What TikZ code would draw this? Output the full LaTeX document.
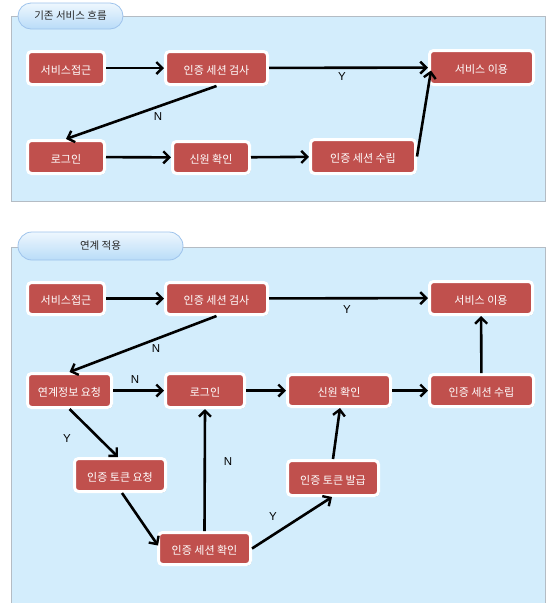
\documentclass[tikz,border=0pt]{standalone}
\usepackage{fontspec}
\newfontfamily\kr{Noto Sans CJK KR}
\newfontfamily\lab{Liberation Sans}
\usetikzlibrary{arrows.meta,shadows,calc}
\definecolor{boxred}{HTML}{C0504D}
\definecolor{panelfill}{HTML}{D3EDFC}
\definecolor{panelline}{HTML}{B4BCC4}
\definecolor{tabline}{HTML}{9EC3EC}
\definecolor{tabtop}{HTML}{EEF7FE}
\definecolor{tabbot}{HTML}{B9DCF8}
\tikzset{
  procbox/.style={draw=white, line width=3pt, fill=boxred, rounded corners=4pt,
    text=white, font=\kr\fontsize{11}{13}\selectfont, inner sep=0pt,
    text height=13pt, text depth=0.5pt,
    drop shadow={shadow xshift=1pt, shadow yshift=-1.2pt, opacity=0.25, fill=black}},
  flow/.style={line width=2.6pt, -{Straight Barb[length=6pt,width=12pt,line width=2.4pt]}},
  edgelab/.style={font=\lab\fontsize{11.5}{13}\selectfont, text=black},
  panel/.style={draw=panelline, fill=panelfill, line width=0.8pt},
  tab/.style={draw=tabline, line width=0.8pt, top color=tabtop, bottom color=tabbot,
    font=\kr\fontsize{10.5}{13}\selectfont, text=black!85, inner sep=0pt},
}
\begin{document}
\begin{tikzpicture}[x=1pt,y=-1pt]
\useasboundingbox (0,0) rectangle (546,603);
\fill[white] (0,0) rectangle (546,603);

% panels
\draw[panel] (11.5,16) rectangle (545,201);
\draw[panel] (11.5,247) rectangle (545,615);

% tabs
\node[tab, rounded corners=13pt, minimum width=105pt, minimum height=26pt] (t1) at (70.5,16) {기존 서비스 흐름};
\node[tab, rounded corners=14pt, minimum width=165pt, minimum height=28pt] (t2) at (100.5,246) {연계 적용};

% panel 1 nodes
\node[procbox, minimum width=77pt, minimum height=33pt] (a1) at (66,68) {서비스접근};
\node[procbox, minimum width=102pt, minimum height=33pt] (a2) at (216.5,68) {인증 세션 검사};
\node[procbox, minimum width=104pt, minimum height=34pt] (a3) at (481.5,67.5) {서비스 이용};
\node[procbox, minimum width=77pt, minimum height=33pt] (a4) at (66,157) {로그인};
\node[procbox, minimum width=77pt, minimum height=32pt] (a5) at (211,157.5) {신원 확인};
\node[procbox, minimum width=105pt, minimum height=34pt] (a6) at (363,156.5) {인증 세션 수립};

% panel 1 arrows
\draw[flow] (a1) -- (a2);
\draw[flow] (a2) -- (a3);
\node[edgelab] (ly1) at (342,77) {Y};
\draw[flow] (a2.south) -- (a4.north);
\node[edgelab] (ln1) at (158,117) {N};
\draw[flow] (a4) -- (a5);
\draw[flow] (a5) -- (a6);
\draw[flow] (a6.east) -- ($(a3.west)+(3,3)$);

% panel 2 nodes
\node[procbox, minimum width=77pt, minimum height=32pt] (b1) at (66,298.5) {서비스접근};
\node[procbox, minimum width=102pt, minimum height=32pt] (b2) at (216.5,298.5) {인증 세션 검사};
\node[procbox, minimum width=103pt, minimum height=33pt] (b3) at (481,298) {서비스 이용};
\node[procbox, minimum width=84pt, minimum height=34pt] (b4) at (69.5,390.5) {연계정보 요청};
\node[procbox, minimum width=79pt, minimum height=34pt] (b5) at (205,390.5) {로그인};
\node[procbox, minimum width=103pt, minimum height=32pt] (b6) at (339,390.5) {신원 확인};
\node[procbox, minimum width=104pt, minimum height=32pt] (b7) at (481.5,390.5) {인증 세션 수립};
\node[procbox, minimum width=91pt, minimum height=33pt] (b8) at (120,475) {인증 토큰 요청};
\node[procbox, minimum width=92pt, minimum height=32pt] (b9) at (204.5,548.5) {인증 세션 확인};
\node[procbox, minimum width=91pt, minimum height=35pt] (b10) at (333,478) {인증 토큰 발급};

% panel 2 arrows
\draw[flow] (b1) -- (b2);
\draw[flow] (b2) -- (b3);
\node[edgelab] (ly2) at (347,310) {Y};
\draw[flow] (b2.south) -- (b4.north);
\node[edgelab] (ln2) at (156,349) {N};
\draw[flow] (b4) -- (b5);
\node[edgelab] (ln3) at (135,380) {N};
\draw[flow] (b5) -- (b6);
\draw[flow] (b6) -- (b7);
\draw[flow] (b7) -- (b3);
\draw[flow] (b4.south) -- ($(b8.north)+(-2,0)$);
\node[edgelab] (ly3) at (67,439) {Y};
\draw[flow] ($(b8.south)+(2,0)$) -- ($(b9.west)+(1,-3)$);
\draw[flow] (b9.north) -- (b5.south);
\node[edgelab] (ln4) at (228,462) {N};
\draw[flow] (b9.east) -- ($(b10.south)+(-1,0)$);
\node[edgelab] (ly4) at (273,517) {Y};
\draw[flow] (b10.north) -- ($(b6.south)+(1,0)$);
\end{tikzpicture}
\end{document}
